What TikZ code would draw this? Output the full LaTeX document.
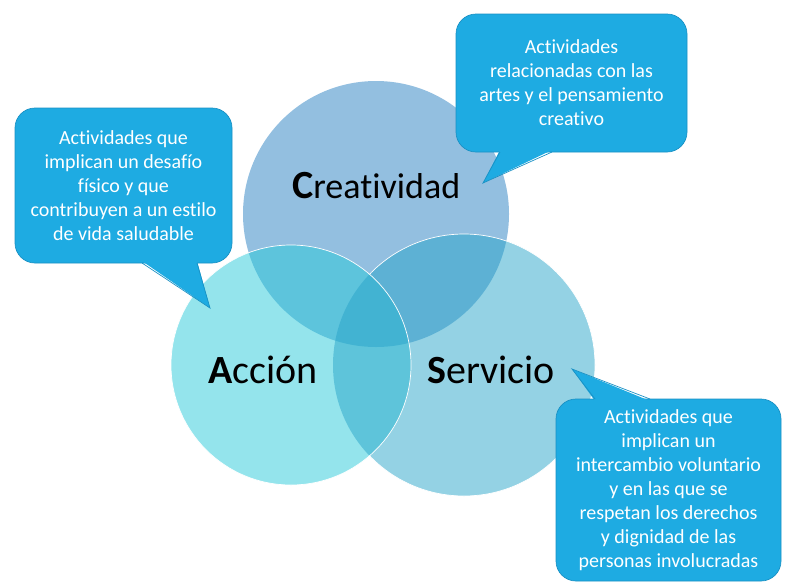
\documentclass[tikz,border=0pt]{standalone}
\usepackage{fontspec}
\setmainfont{Carlito}[Ligatures={NoCommon,NoContextual}]

\definecolor{creaBlue}{RGB}{39,127,193}
\definecolor{accTeal}{RGB}{41,201,217}
\definecolor{servBlue}{RGB}{41,165,201}
\definecolor{calloutFill}{RGB}{30,171,226}
\definecolor{calloutLine}{RGB}{26,145,196}

\tikzset{
	ring/.style={fill opacity=.5},
	ringline/.style={draw=white, line width=.7pt},
	biglabel/.style={anchor=base west, inner sep=0pt, font=\fontsize{40}{40}\selectfont},
	callout/.style={rectangle, fill=calloutFill, draw=calloutLine, line width=.7pt, rounded corners=20pt, inner sep=0pt, text=white, align=center, font=\fontsize{20}{24}\selectfont},
	tailfill/.style={fill=calloutFill},
	tailline/.style={draw=calloutLine, line width=.7pt}
}

\begin{document}
\begin{tikzpicture}[x=1pt, y=-1pt]
	
	\useasboundingbox (0,0) rectangle (787,587);
	
	% the three circles
	\fill [ring, creaBlue] (376,214) circle (133);
	\fill [ring, accTeal] (291,365) circle (120);
	\fill [ring, servBlue] (464,365) circle (131);
	
	\draw [ringline] (291,365) circle (120);
	\begin{scope}[even odd rule]
		\clip (0,0) rectangle (787,587) (291,365) circle (120);
		\draw [ringline] (464,365) circle (131);
	\end{scope}
	
	\node [biglabel] (creaLabel) at (292,198) {{\bfseries C}{\fontsize{36}{36}\selectfont reatividad}};
	
	\node [biglabel] (accLabel) at (208,383) {{\bfseries A}cción};
	
	\node [biglabel] (servLabel) at (427,383) {{\bfseries S}ervicio};
	
	% callouts
	\node [callout, minimum width=217, minimum height=155] (accBox) at (123.5,185.5) {Actividades que\\implican un desafío\\físico y que\\contribuyen a un estilo\\de vida saludable};
	\coordinate (accTip) at (210,308);
	\fill [tailfill] (142,261) -- (accTip) -- (197,261) -- cycle;
	\draw [tailline] (142,263) -- (accTip) -- (197,263);
	
	\node [callout, minimum width=231, minimum height=138] (creaBox) at (571.5,83) {Actividades\\relacionadas con las\\artes y el pensamiento\\creativo};
	\coordinate (creaTip) at (483,183);
	\fill [tailfill] (500,150) -- (creaTip) -- (552,150) -- cycle;
	\draw [tailline] (500,152) -- (creaTip) -- (552,152);
	
	\node [callout, minimum width=225, minimum height=182] (servBox) at (668.5,490) {Actividades que\\implican un\\intercambio voluntario\\y en las que se\\respetan los derechos\\y dignidad de las\\personas involucradas};
	\coordinate (servTip) at (572,369);
	\fill [tailfill] (595,401) -- (servTip) -- (650,401) -- cycle;
	\draw [tailline] (595,399) -- (servTip) -- (650,399);
	
\end{tikzpicture}
\end{document}
